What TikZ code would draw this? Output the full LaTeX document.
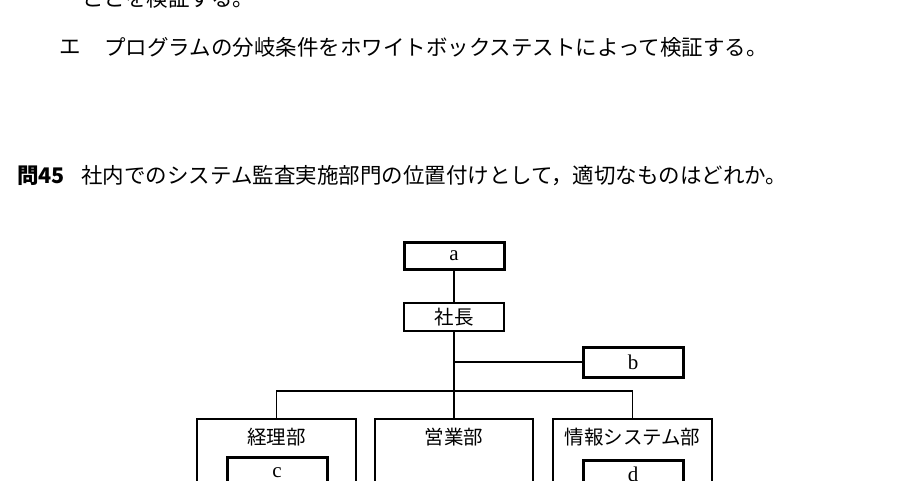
\documentclass[tikz,border=0pt]{standalone}
\usepackage{fontspec}
\newfontfamily\jp{Noto Sans CJK JP}
\newfontfamily\lat{Liberation Serif}
\begin{document}
\begin{tikzpicture}[x=1pt,y=-1pt,
  body/.style={font=\jp\fontsize{21.5}{26}\selectfont,inner sep=0pt,anchor=west},
  thinbox/.style={draw,line width=1.3pt,inner sep=0pt,outer sep=0pt,font=\jp\fontsize{19.5}{23}\selectfont},
  thickbox/.style={draw,line width=3pt,inner sep=0pt,outer sep=0pt,font=\lat\fontsize{21}{25}\selectfont},
  deptlabel/.style={inner sep=0pt,font=\jp\fontsize{19.5}{23}\selectfont},
  conn/.style={line width=1.3pt}]
\useasboundingbox (0,0) rectangle (900,480);
\clip (0,0) rectangle (900,480);
\fill[white] (0,0) rectangle (900,480);
% question text
\node[body] (t1) at (82,-2) {ことを検証する。};
\node[body] (t2a) at (59,47) {エ};
\node[body] (t2b) at (104,47) {プログラムの分岐条件をホワイトボックステストによって検証する。};
\node[body,font=\jp\bfseries\fontsize{21.5}{26}\selectfont] (q) at (17,176) {問45};
\node[body] (qt) at (81,176) {社内でのシステム監査実施部門の位置付けとして，適切なものはどれか。};
% org chart
\node[thickbox,minimum width=100pt,minimum height=27pt] (a) at (454,255.5) {a};
\node[thinbox,minimum width=100pt,minimum height=28pt] (pres) at (454,317) {社長};
\node[thickbox,minimum width=100pt,minimum height=30pt] (b) at (633,362) {b};
\node[draw,line width=1.3pt,inner sep=0pt,outer sep=0pt,minimum width=159pt,minimum height=81pt] (d1) at (276.5,459.5) {};
\node[draw,line width=1.3pt,inner sep=0pt,outer sep=0pt,minimum width=158pt,minimum height=81pt] (d2) at (454,459.5) {};
\node[draw,line width=1.3pt,inner sep=0pt,outer sep=0pt,minimum width=159pt,minimum height=81pt] (d3) at (632.5,459.5) {};
\node[deptlabel] (l1) at (276.5,437) {経理部};
\node[deptlabel] (l2) at (454,437) {営業部};
\node[deptlabel] (l3) at (632.5,437) {情報システム部};
\node[thickbox,minimum width=100pt,minimum height=50pt] (c) at (277,482) {};
\node[thickbox,minimum width=100pt,minimum height=50pt] (d) at (633,485) {};
\node[inner sep=0pt,anchor=base,font=\lat\fontsize{21}{25}\selectfont] (cl) at (277,477) {c};
\node[inner sep=0pt,anchor=base,font=\lat\fontsize{21}{25}\selectfont] (dl) at (633,481) {d};
\coordinate (bar) at (454,391);
\coordinate (jb) at (454,362);
\draw[conn] (a.south) -- (pres.north);
\draw[conn] (pres.south) -- (d2.north);
\draw[conn] (jb) -- (b.west);
\draw[conn] (d1.north) -- (d1.north |- bar) -- (d3.north |- bar) -- (d3.north);
\end{tikzpicture}
\end{document}
